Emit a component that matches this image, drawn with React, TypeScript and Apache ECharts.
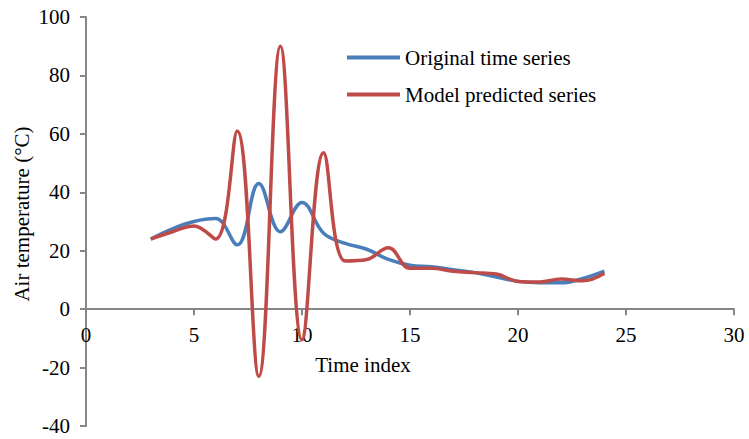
import React, { useEffect, useRef } from "react";
import * as echarts from "echarts";

const timeIndex = [3, 4, 5, 6, 7, 8, 9, 10, 11, 12, 13, 14, 15, 16, 17, 18, 19, 20, 21, 22, 23, 24];
const originalSeries = [24, 27.5, 30, 31, 22, 43, 26.5, 36.5, 26, 22.5, 20.5, 17, 15, 14.5, 13.5, 12.5, 11, 9.5, 9, 9, 10.5, 13];
const predictedSeries = [24, 26.5, 28.5, 24, 61, -23, 90, -10.5, 53.5, 16.5, 17, 21, 14, 14, 13, 12.5, 12, 9.5, 9.3, 10.3, 9.7, 12.3];
const xTicks = { min: 0, max: 30, interval: 5 };
const yTicks = { min: -40, max: 100, interval: 20 };

const FONT = "Liberation Serif";
const AXIS_COLOR = "#868686";
const BLUE = "#4A7EBB";
const RED = "#BE4B48";

export default function App() {
  const ref = useRef<HTMLDivElement>(null);
  useEffect(() => {
    if (!ref.current) return;
    const chart = echarts.init(ref.current, undefined, { renderer: "svg" });
    const pair = (ys: number[]) => timeIndex.map((x, i) => [x, ys[i]]);
    chart.setOption({
      animation: false,
      backgroundColor: "#ffffff",
      textStyle: { fontFamily: FONT },
      grid: { left: 86, right: 15, top: 17, bottom: 13, containLabel: false, outerBoundsMode: "none" },
      legend: {
        orient: "vertical",
        left: 342,
        top: 42,
        itemWidth: 53,
        itemHeight: 4,
        itemGap: 16,
        icon: "rect",
        textStyle: { fontFamily: FONT, fontSize: 21, color: "#000" },
        data: [
          { name: "Original time series", icon: "rect", itemStyle: { color: BLUE } },
          { name: "Model predicted series", icon: "rect", itemStyle: { color: RED } },
        ],
      },
      xAxis: {
        type: "value",
        min: xTicks.min,
        max: xTicks.max,
        interval: xTicks.interval,
        offset: 0,
        axisLine: { show: true, onZero: false, lineStyle: { color: AXIS_COLOR, width: 2 } },
        axisTick: { show: true, inside: false, length: 6, lineStyle: { color: AXIS_COLOR, width: 2 } },
        axisLabel: { fontFamily: FONT, fontSize: 21, color: "#000", margin: 15 },
        splitLine: { show: false },
      },
      yAxis: {
        type: "value",
        min: yTicks.min,
        max: yTicks.max,
        interval: yTicks.interval,
        axisLine: { show: true, onZero: false, lineStyle: { color: AXIS_COLOR, width: 2 } },
        axisTick: { show: true, inside: false, length: 6, lineStyle: { color: AXIS_COLOR, width: 2 } },
        axisLabel: { fontFamily: FONT, fontSize: 21, color: "#000", margin: 16 },
        splitLine: { show: false },
      },
      graphic: [
        {
          type: "text",
          x: 22,
          y: 214,
          rotation: Math.PI / 2,
          style: {
            text: "Air temperature (°C)",
            fontFamily: FONT,
            fontSize: 21,
            fill: "#000",
            align: "center",
            verticalAlign: "middle",
          },
        },
        {
          type: "text",
          x: 363,
          y: 365,
          style: {
            text: "Time index",
            fontFamily: FONT,
            fontSize: 21,
            fill: "#000",
            align: "center",
            verticalAlign: "middle",
          },
        },
      ],
      series: [
        {
          name: "Original time series",
          type: "line",
          data: pair(originalSeries),
          smooth: 0.4,
          symbol: "none",
          lineStyle: { color: BLUE, width: 3.5 },
          itemStyle: { color: BLUE },
          z: 2,
        },
        {
          name: "Model predicted series",
          type: "line",
          data: pair(predictedSeries),
          smooth: 0.4,
          symbol: "none",
          lineStyle: { color: RED, width: 3.5 },
          itemStyle: { color: RED },
          z: 3,
        },
      ],
    });
    // Move the x axis (line, ticks, labels) up to y = 0, measured through the y scale.
    const yZero = chart.convertToPixel({ yAxisIndex: 0 }, 0) as number;
    const yBottom = chart.convertToPixel({ yAxisIndex: 0 }, yTicks.min) as number;
    chart.setOption({ xAxis: { offset: -(yBottom - yZero) } });
    return () => chart.dispose();
  }, []);
  return <div ref={ref} style={{ width: 749, height: 439, position: "absolute", left: 0, top: 0 }} />;
}
